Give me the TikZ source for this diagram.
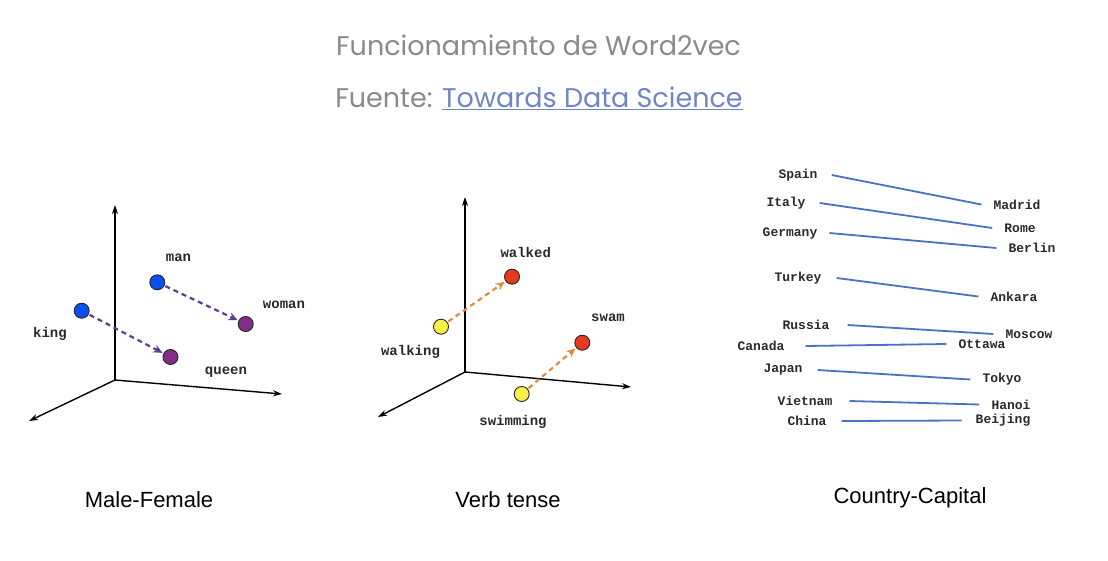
\documentclass[tikz,border=0pt]{standalone}
\usepackage{fontspec}
\setmainfont{Liberation Sans}
\newfontfamily\monof{Liberation Mono}
\newfontfamily\titlef{Poppins}
\usetikzlibrary{arrows.meta}
\definecolor{titlegray}{HTML}{8A8A8A}
\definecolor{linkblue}{HTML}{6F86C4}
\definecolor{dotblue}{HTML}{0A4FF0}
\definecolor{dotpurple}{HTML}{832D86}
\definecolor{dotred}{HTML}{E53A1E}
\definecolor{dotyellow}{HTML}{F8F146}
\definecolor{arrpurple}{HTML}{5E3D91}
\definecolor{arrorange}{HTML}{E38B3E}
\definecolor{lineblue}{HTML}{4A72C4}
\definecolor{labgray}{HTML}{2A2A2A}
\begin{document}
\begin{tikzpicture}[x=1pt,y=-1pt,
  dot/.style={circle,draw=black!85,line width=0.9pt,minimum size=15pt,inner sep=0pt},
  lab/.style={font=\monof\bfseries\fontsize{14}{16}\selectfont,text=labgray,inner sep=0pt},
  clab/.style={font=\monof\bfseries\fontsize{13}{15}\selectfont,text=labgray,inner sep=0pt},
  axis/.style={line width=1.4pt,-{Stealth[length=9pt,width=6pt]}},
  vec/.style={line width=2.2pt,dash pattern=on 5pt off 4pt,-{Stealth[length=9pt,width=8pt]},shorten >=1pt,shorten <=1pt},
  pair/.style={lineblue,line width=1.8pt},
  caption/.style={font=\fontsize{22}{26}\selectfont,anchor=base,inner sep=0pt}
]
\useasboundingbox (0,0) rectangle (1108,560);
\fill[white] (0,0) rectangle (1108,560);
% titles
\node[anchor=base,inner sep=0pt,text=titlegray,font=\titlef\fontsize{27}{30}\selectfont] (t1) at (538.5,55.5) {Funcionamiento de Word2vec};
\node[anchor=base,inner sep=0pt,text=titlegray,font=\titlef\fontsize{27}{30}\selectfont] (t2) at (539,107.5) {Fuente: \textcolor{linkblue}{\underline{Towards Data Science}}};
% ---------- panel 1
\coordinate (o1) at (115,380);
\coordinate (y1) at (115,205);
\coordinate (x1) at (282,394);
\coordinate (z1) at (29,421);
\draw[axis] (o1) -- (y1);
\draw[axis] (o1) -- (x1);
\draw[axis] (o1) -- (z1);
\node[dot,fill=dotblue] (king) at (81.7,310.7) {};
\node[dot,fill=dotblue] (man) at (157.3,282.3) {};
\node[dot,fill=dotpurple] (woman) at (245.7,324) {};
\node[dot,fill=dotpurple] (queen) at (170.5,357) {};
\draw[vec,arrpurple] (king) -- (queen);
\draw[vec,arrpurple] (man) -- (woman);
\node[lab] (lking) at (50,334) {king};
\node[lab] (lman) at (178.5,258) {man};
\node[lab] (lwoman) at (284,305) {woman};
\node[lab] (lqueen) at (226,372) {queen};
% ---------- panel 2
\coordinate (o2) at (465,372);
\coordinate (y2) at (465,197);
\coordinate (x2) at (631,387);
\coordinate (z2) at (378,417);
\draw[axis] (o2) -- (y2);
\draw[axis] (o2) -- (x2);
\draw[axis] (o2) -- (z2);
\node[dot,fill=dotyellow] (walking) at (441,326.7) {};
\node[dot,fill=dotred] (walked) at (512,276.7) {};
\node[dot,fill=dotred] (swam) at (582.3,342.7) {};
\node[dot,fill=dotyellow] (swimming) at (521.7,394) {};
\draw[vec,arrorange] (walking) -- (walked);
\draw[vec,arrorange] (swimming) -- (swam);
\node[lab] (lwalked) at (525.7,252.3) {walked};
\node[lab] (lwalking) at (410.5,351.7) {walking};
\node[lab] (lswam) at (608,318) {swam};
\node[lab] (lswimming) at (513,421.7) {swimming};
% ---------- panel 3
\node[clab] (spain) at (798,175) {Spain};
\node[clab] (madrid) at (1017,204.5) {Madrid};
\node[clab] (italy) at (786,203) {Italy};
\node[clab] (rome) at (1020,228) {Rome};
\node[clab] (germany) at (790,233) {Germany};
\node[clab] (berlin) at (1032,248) {Berlin};
\node[clab] (turkey) at (798,278) {Turkey};
\node[clab] (ankara) at (1014,296.5) {Ankara};
\node[clab] (russia) at (806,325) {Russia};
\node[clab] (moscow) at (1029,334) {Moscow};
\node[clab] (canada) at (761,346) {Canada};
\node[clab] (ottawa) at (982,344) {Ottawa};
\node[clab] (japan) at (783,370) {Japan};
\node[clab] (tokyo) at (1002,379.5) {Tokyo};
\node[clab] (vietnam) at (805,401) {Vietnam};
\node[clab] (hanoi) at (1011,404.5) {Hanoi};
\node[clab] (china) at (807,421) {China};
\node[clab] (beijing) at (1003,420.5) {Beijing};
\draw[pair] ([xshift=14pt]spain.east) -- ([xshift=-12pt]madrid.west);
\draw[pair] ([xshift=14pt]italy.east) -- ([xshift=-12pt]rome.west);
\draw[pair] ([xshift=12pt]germany.east) -- ([xshift=-12pt]berlin.west);
\draw[pair] ([xshift=15pt]turkey.east) -- ([xshift=-12pt]ankara.west);
\draw[pair] ([xshift=18pt]russia.east) -- ([xshift=-12pt]moscow.west);
\draw[pair] ([xshift=21pt]canada.east) -- ([xshift=-12pt]ottawa.west);
\draw[pair] ([xshift=15pt]japan.east) -- ([xshift=-12pt]tokyo.west);
\draw[pair] ([xshift=17pt]vietnam.east) -- ([xshift=-12pt]hanoi.west);
\draw[pair] ([xshift=15pt]china.east) -- ([xshift=-14pt]beijing.west);
% captions
\node[caption] (c1) at (149,507) {Male-Female};
\node[caption] (c2) at (508,507) {Verb tense};
\node[caption] (c3) at (910,503) {Country-Capital};
\end{tikzpicture}
\end{document}
